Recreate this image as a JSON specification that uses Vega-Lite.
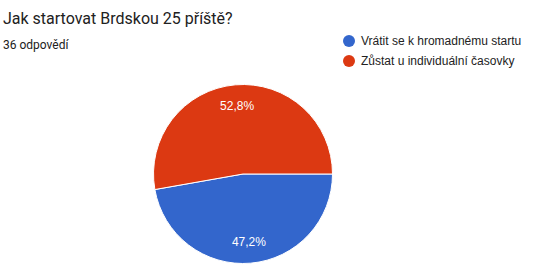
{
  "$schema": "https://vega.github.io/schema/vega-lite/v6.json",
  "width": 486,
  "height": 208,
  "autosize": {"type": "none"},
  "padding": {"left": 0, "top": 70, "right": 65, "bottom": 0},
  "background": "white",
  "config": {"view": {"stroke": null}},
  "title": {
    "text": "Jak startovat Brdskou 25 příště?",
    "subtitle": "36 odpovědí",
    "anchor": "start",
    "frame": "group",
    "dx": 3,
    "offset": -16,
    "font": "Roboto",
    "fontSize": 16,
    "fontWeight": "normal",
    "color": "#212121",
    "subtitleFont": "Roboto",
    "subtitleFontSize": 12,
    "subtitleColor": "#212121",
    "subtitlePadding": 13
  },
  "data": {
    "values": [
      {"option": "Vrátit se k hromadnému startu", "count": 17, "idx": 1, "label": "47,2%"},
      {"option": "Zůstat u individuální časovky", "count": 19, "idx": 2, "label": "52,8%"}
    ]
  },
  "encoding": {
    "theta": {"field": "count", "type": "quantitative", "stack": true, "scale": {"range": [1.5707963, 7.8539816]}},
    "order": {"field": "idx", "type": "quantitative"}
  },
  "layer": [
    {
      "mark": {"type": "arc", "outerRadius": 89.5, "stroke": "white", "strokeWidth": 1},
      "encoding": {
        "color": {
          "field": "option",
          "type": "nominal",
          "scale": {"domain": ["Vrátit se k hromadnému startu", "Zůstat u individuální časovky"], "range": ["#3366cc", "#dc3912"]},
          "legend": {
            "title": null,
            "orient": "none",
            "legendX": 343,
            "legendY": -35,
            "symbolType": "circle",
            "symbolSize": 144,
            "symbolStrokeWidth": 0,
            "labelFont": "Liberation Sans",
            "labelFontSize": 12,
            "labelColor": "#222222",
            "labelOffset": 6,
            "rowPadding": 8,
            "labelLimit": 300
          }
        }
      }
    },
    {
      "mark": {"type": "text", "radius": 68, "font": "Liberation Sans", "fontSize": 12, "color": "white"},
      "encoding": {"text": {"field": "label", "type": "nominal"}}
    }
  ]
}
